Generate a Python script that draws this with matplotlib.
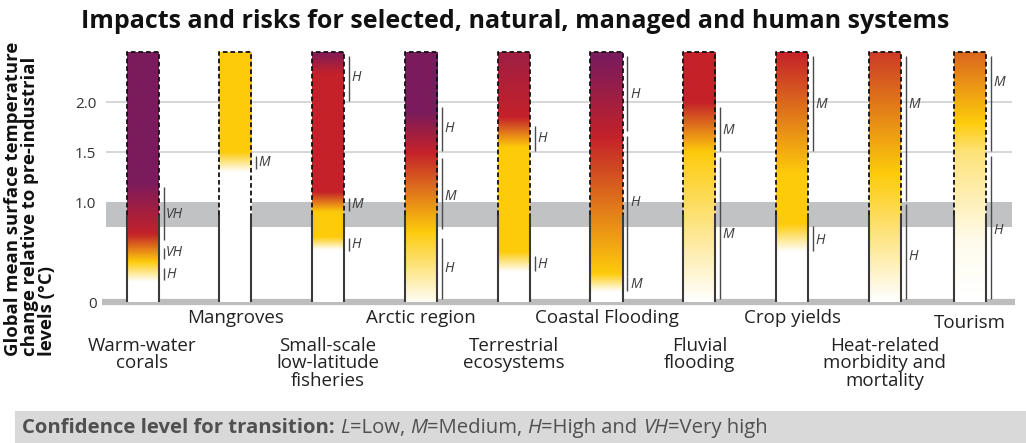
"""Burning-embers chart: impacts and risks vs global warming level."""
import numpy as np
import matplotlib
matplotlib.use("Agg")
import matplotlib.pyplot as plt
from matplotlib.colors import LinearSegmentedColormap
from matplotlib.patches import Rectangle

plt.rcParams["font.family"] = ["Open Sans", "DejaVu Sans"]

# ---- data -------------------------------------------------------------
categories = [
    "Warm-water\ncorals", "Mangroves", "Small-scale\nlow-latitude\nfisheries",
    "Arctic region", "Terrestrial\necosystems", "Coastal Flooding",
    "Fluvial\nflooding", "Crop yields", "Heat-related\nmorbidity and\nmortality",
    "Tourism",
]

# risk level along each ember: (warming °C, level) with
# 0 = undetectable, 1 = moderate, 2 = high, 3 = very high
risk_stops = [
    [(0.0, 0), (0.2, 0), (0.4, 1), (0.68, 2), (1.2, 3), (2.5, 3)],
    [(0.0, 0), (1.3, 0), (1.5, 1), (2.5, 1)],
    [(0.0, 0), (0.52, 0), (0.65, 1), (0.9, 1), (1.1, 2), (2.28, 2), (2.5, 2.9)],
    [(0.0, 0.05), (0.7, 1), (1.5, 2), (1.9, 3), (2.5, 3)],
    [(0.0, 0), (0.3, 0), (0.5, 1), (1.55, 1), (1.85, 2), (2.5, 2.5)],
    [(0.0, 0), (0.1, 0), (0.28, 1), (1.65, 2), (2.45, 3), (2.5, 3)],
    [(0.0, 0), (1.5, 1), (2.0, 2), (2.5, 2)],
    [(0.0, 0), (0.5, 0), (0.78, 1), (1.28, 1), (2.5, 2)],
    [(0.0, 0), (1.28, 1), (2.5, 1.85)],
    [(0.0, 0), (0.6, 0.08), (1.5, 0.55), (1.8, 1), (2.5, 1.6)],
]

# confidence of each transition: (from °C, to °C, label at °C, level)
confidence = [
    [(0.22, 0.34, 0.28, "H"), (0.43, 0.54, 0.49, "VH"), (0.62, 1.15, 0.88, "VH")],
    [(1.33, 1.46, 1.39, "M")],
    [(0.51, 0.64, 0.58, "H"), (0.91, 1.04, 0.97, "M"), (2.01, 2.46, 2.24, "H")],
    [(0.03, 0.64, 0.33, "H"), (0.73, 1.44, 1.06, "M"), (1.51, 1.95, 1.73, "H")],
    [(0.31, 0.46, 0.38, "H"), (1.51, 1.76, 1.63, "H")],
    [(0.11, 0.26, 0.18, "M"), (0.26, 1.66, 0.99, "H"), (1.71, 2.46, 2.08, "H")],
    [(0.03, 1.45, 0.68, "M"), (1.51, 1.95, 1.72, "M")],
    [(0.51, 0.76, 0.62, "H"), (1.51, 2.46, 1.97, "M")],
    [(0.03, 0.98, 0.46, "H"), (1.01, 2.46, 1.97, "M")],
    [(0.03, 1.46, 0.71, "H"), (1.51, 2.46, 2.19, "M")],
]

yticks = [0, 1.0, 1.5, 2.0]
ytick_labels = ["0", "1.0", "1.5", "2.0"]
recent_warming = (0.75, 1.0)   # grey band
observed_top = 0.87            # solid outline below, dashed above
ember_top = 2.5

# ---- layout -----------------------------------------------------------
W, H = 1026, 443
fig = plt.figure(figsize=(W / 100, H / 100), dpi=100)

x0_px, x1_px = 102, 1015
step_px, first_px = 92.8, 142.5
y0_px, ymax = 302, 2.55
ax = fig.add_axes([x0_px / W, (H - y0_px) / H, (x1_px - x0_px) / W, ymax * 100 / H])


def px_to_x(px):
    return (px - first_px) / step_px


xpos = np.arange(len(categories), dtype=float)
xpos[-1] -= 0.08          # tourism sits a little closer to its neighbour
bar_w = 32 / step_px
conf_gap = 5 / step_px

cmap = LinearSegmentedColormap.from_list(
    "embers", ["#ffffff", "#fdcb0b", "#c4222a", "#7a1b5c"])

# background: recent warming band, grid lines, baseline
ax.fill_between([px_to_x(106), px_to_x(1012)], *recent_warming,
                color="#c1c2c4", lw=0, zorder=0)
ax.hlines([1.5, 2.0], px_to_x(106), px_to_x(1012), color="#cfcfcf", lw=1.2, zorder=0)
ax.hlines(0, px_to_x(102), px_to_x(1015), color="#bdbdbd", lw=4.5, zorder=1,
          clip_on=False)

temps = np.linspace(0, ember_top, 400)
for x, stops, conf in zip(xpos, risk_stops, confidence):
    st = np.array(stops, dtype=float)
    level = np.interp(temps, st[:, 0], st[:, 1])
    rgb = cmap(level / 3.0)[:, :3]
    left, right = x - bar_w / 2, x + bar_w / 2
    ax.imshow(rgb[:, None, :], extent=(left, right, 0, ember_top), origin="lower",
              aspect="auto", interpolation="bilinear", zorder=2)
    # outline: solid sides up to observed warming, dashed above
    ax.vlines([left, right], 0, observed_top, color="#3a3a3a", lw=1.5, zorder=3)
    ax.plot([left, left, right, right], [observed_top, ember_top, ember_top, observed_top],
            color="#111111", lw=1.3, ls=(0, (2.6, 1.6)), zorder=3,
            solid_capstyle="butt", dash_capstyle="butt")
    # confidence ranges
    cx = right + conf_gap
    for lo, hi, at, lab in conf:
        ax.vlines(cx, lo, hi, color="#4a4a4a", lw=1.0, zorder=3)
        ax.text(cx + 2.5 / step_px, at, lab, style="italic", fontsize=10,
                color="#3a3a3a", ha="left", va="center", zorder=4)

ax.set_xlim(px_to_x(x0_px), px_to_x(x1_px))
ax.set_ylim(0, ymax)
ax.set_yticks(yticks)
ax.set_yticklabels(ytick_labels, fontsize=11, color="#333333")
ax.tick_params(axis="y", length=0, pad=4)
ax.set_xticks([])
for sp in ax.spines.values():
    sp.set_visible(False)
ax.patch.set_alpha(0)

# category names, alternating between two rows
for i, (x, name) in enumerate(zip(xpos, categories)):
    px = first_px + x * step_px
    if i % 2:
        ypx = 323 if i == len(categories) - 1 else 318
        va = "center"
    else:
        ypx = 337
        va = "top"
    fig.text(px / W, 1 - ypx / H, name, ha="center", va=va,
             fontsize=13.5, color="#222222", linespacing=0.95)

fig.text(515 / W, 1 - 21 / H, "Impacts and risks for selected, natural, managed and human systems",
         ha="center", va="center", fontsize=18, fontweight="bold", color="#111111")

fig.text(4 / W, 1 - 356 / H,
         "Global mean surface temperature\nchange relative to pre-industrial\nlevels (°C)",
         rotation=90, ha="left", va="bottom", multialignment="left",
         fontsize=13.3, fontweight="bold", color="#111111", linespacing=0.92)

# footer key
fig.patches.append(Rectangle((15 / W, 0), 1 - 15 / W, 32 / H, transform=fig.transFigure,
                             facecolor="#d9d9d9", edgecolor="none", zorder=0))
pieces = [
    ("Confidence level for transition: ", "bold", "normal"),
    ("L", "normal", "italic"), ("=Low, ", "normal", "normal"),
    ("M", "normal", "italic"), ("=Medium, ", "normal", "normal"),
    ("H", "normal", "italic"), ("=High and ", "normal", "normal"),
    ("VH", "normal", "italic"), ("=Very high", "normal", "normal"),
]
renderer = fig.canvas.get_renderer()
xcur = 22
for txt, wt, st in pieces:
    t = fig.text(xcur / W, 1 - 428 / H, txt, fontweight=wt, style=st, fontsize=14.6,
                 color="#505050", ha="left", va="center")
    xcur += t.get_window_extent(renderer).width

fig.savefig("out.png", dpi=100)
